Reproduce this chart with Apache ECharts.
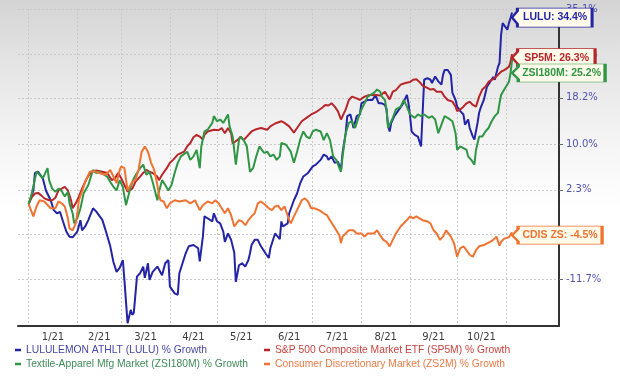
<!DOCTYPE html>
<html>
<head>
<meta charset="utf-8">
<script src="https://cdn.jsdelivr.net/npm/echarts@6/dist/echarts.min.js"></script>
<style>
  html, body { margin: 0; padding: 0; background: #fff; }
  #chart {
    width: 620px;
    height: 376px;
    background: linear-gradient(to bottom, #d4d4d4 0px, #e6e6e6 70px, #f6f6f6 150px, #ffffff 210px);
  }
</style>
</head>
<body>
<div id="chart"></div>
<script>
// growth is drawn on a log scale of (OFFSET + %), that is how the source spaces its ticks
const OFFSET = 150;

// x is a day number, 0 = 1 Jan 2021
const monthLabels = ['1/21', '2/21', '3/21', '4/21', '5/21', '6/21', '7/21', '8/21', '9/21', '10/21'];
const monthStarts = [0, 31, 59, 90, 120, 151, 181, 212, 243, 273, 304];
const monthMids = [15.5, 45, 74.5, 105, 135.5, 166, 196.5, 227.5, 258, 288.5];
const yTickValues = [35.1, 26.3, 18.2, 10.0, 2.3, -4.8, -11.7];

const seriesNames = [
  'LULULEMON ATHLT (LULU) % Growth',
  'S&P 500 Composite Market ETF (SP5M) % Growth',
  'Textile-Apparel Mfg Market (ZSI180M) % Growth',
  'Consumer Discretionary Market (ZS2M) % Growth',
];
const shortNames = ['LULU', 'SP5M', 'ZSI180M', 'CDIS ZS'];

const luluDays = [0, 3, 4, 6, 7, 9, 11, 14, 16, 18, 20, 22, 24, 26, 28, 31, 33, 34, 36, 38, 41, 43, 47, 49, 52, 54, 56, 58, 60, 61, 63, 65, 66, 67, 69, 71, 73, 74, 76, 77, 79, 82, 85, 87, 89, 90, 93, 95, 96, 100, 102, 105, 108, 109, 111, 112, 114, 117, 118, 120, 122, 124, 125, 127, 129, 131, 132, 134, 136, 138, 140, 141, 142, 144, 146, 148, 151, 153, 154, 155, 157, 160, 161, 162, 165, 166, 169, 171, 173, 175, 178, 181, 183, 186, 188, 190, 191, 193, 195, 197, 199, 200, 202, 203, 205, 207, 209, 211, 212, 214, 216, 219, 221, 223, 225, 227, 228, 229, 230, 231, 233, 236, 238, 240, 241, 242, 243, 244, 246, 248, 250, 251, 252, 254, 256, 257, 259, 261, 263, 264, 265, 267, 269, 270, 272, 273, 275, 277, 278, 280, 281, 283, 284, 286, 287, 288, 290, 292, 294, 296, 297, 299, 300, 301, 302, 303, 305, 306, 307, 308];
const luluValues = [0, 2.2, 5.1, 5.3, 5.2, 4.2, 2.2, 0.6, -1.0, -1.5, -1.3, -2.9, -4.4, -5.2, -5.3, -4.4, -2.6, -4.2, -3.6, -2.6, -0.7, -1.2, -2.6, -4.2, -6.7, -9.1, -10.6, -10.0, -8.8, -11.8, -18.1, -16.2, -16.9, -16.6, -11.3, -10.8, -9.8, -11.5, -9.3, -11.8, -10.6, -9.8, -11.1, -9.3, -8.8, -12.8, -13.8, -14.0, -10.8, -7.8, -6.7, -6.5, -7.0, -9.0, -5.2, -2.0, -2.3, -2.8, -1.5, -2.8, -3.1, -4.4, -6.0, -4.7, -5.7, -7.7, -12.1, -9.6, -9.3, -9.8, -8.8, -7.8, -6.5, -5.7, -5.7, -6.7, -7.8, -8.5, -7.0, -6.7, -4.7, -5.6, -2.8, -3.6, -3.1, -1.5, 0.6, 1.7, 3.4, 4.5, 5.1, 6.2, 6.5, 7.3, 8.2, 7.9, 7.3, 7.9, 6.8, 7.0, 5.6, 8.5, 11.9, 14.9, 15.2, 12.8, 14.9, 15.2, 17.2, 17.5, 17.8, 17.8, 18.7, 17.2, 17.2, 16.9, 16.1, 13.1, 12.2, 13.7, 14.9, 16.1, 16.9, 18.1, 18.7, 17.2, 14.9, 12.2, 11.6, 11.3, 9.6, 9.6, 21.5, 21.8, 21.5, 20.9, 22.1, 21.2, 20.6, 22.4, 23.3, 23.3, 22.4, 19.1, 17.8, 16.6, 15.8, 15.2, 13.4, 14.3, 12.8, 11.3, 10.8, 13.7, 15.5, 16.4, 17.8, 20.2, 21.1, 22.0, 21.5, 23.9, 24.6, 30.0, 32.3, 32.0, 31.0, 32.3, 33.3, 34.4];

const sp5mDays = [0, 2, 4, 6, 8, 10, 13, 15, 17, 19, 21, 23, 25, 27, 28, 30, 32, 34, 37, 40, 43, 47, 50, 53, 55, 57, 59, 61, 63, 66, 68, 71, 73, 75, 77, 79, 82, 83, 85, 88, 90, 92, 95, 99, 101, 103, 105, 107, 109, 111, 112, 114, 118, 121, 123, 125, 127, 129, 130, 133, 135, 137, 139, 142, 145, 148, 152, 154, 157, 161, 163, 166, 169, 171, 174, 177, 180, 183, 187, 189, 191, 193, 195, 197, 199, 202, 204, 206, 209, 211, 214, 217, 221, 224, 227, 230, 232, 234, 237, 240, 243, 245, 247, 249, 251, 254, 256, 258, 260, 263, 265, 267, 270, 272, 273, 275, 277, 279, 281, 283, 285, 287, 289, 291, 293, 295, 297, 299, 301, 303, 306, 307, 308];
const sp5mValues = [0, 1.1, 1.7, 1.8, 1.4, 0.9, 0.6, 0.6, 1.0, 2.2, 2.5, 2.8, 2.2, 0.6, -0.7, 0.1, 1.2, 2.5, 4.2, 5.3, 5.5, 5.3, 5.1, 3.9, 4.2, 5.1, 4.2, 3.1, 2.0, 2.5, 3.6, 4.5, 5.1, 5.6, 5.3, 5.1, 4.5, 3.9, 4.8, 5.9, 6.8, 7.3, 8.2, 8.7, 9.6, 10.2, 11.2, 11.6, 11.3, 10.8, 11.6, 12.2, 12.5, 12.4, 12.8, 11.9, 12.8, 11.9, 10.1, 10.7, 11.3, 10.7, 11.3, 12.2, 12.6, 12.8, 12.5, 13.1, 13.6, 14.0, 13.7, 13.1, 12.0, 12.8, 14.0, 14.6, 15.2, 15.6, 16.4, 16.9, 16.8, 17.2, 16.6, 15.8, 14.3, 16.1, 17.8, 18.4, 18.1, 17.8, 18.4, 18.7, 18.7, 18.6, 19.3, 17.9, 19.3, 19.6, 20.6, 20.9, 21.1, 21.5, 21.6, 21.1, 20.4, 20.0, 19.7, 19.8, 19.3, 19.3, 18.4, 17.8, 17.5, 16.6, 15.8, 16.1, 16.6, 17.2, 17.5, 16.9, 16.6, 18.4, 19.7, 20.2, 21.1, 21.5, 21.8, 22.4, 23.0, 23.3, 23.9, 24.8, 26.3];

const zsiDays = [0, 2, 5, 7, 9, 12, 13, 15, 17, 19, 21, 23, 25, 26, 28, 29, 31, 33, 35, 38, 41, 43, 45, 48, 50, 52, 54, 56, 58, 60, 62, 65, 67, 69, 71, 73, 75, 77, 79, 82, 83, 85, 87, 89, 91, 93, 95, 97, 101, 103, 105, 107, 109, 110, 112, 114, 117, 118, 120, 122, 124, 127, 128, 130, 132, 134, 135, 137, 139, 141, 143, 145, 147, 150, 152, 154, 156, 158, 160, 161, 164, 167, 169, 171, 173, 175, 177, 179, 181, 183, 186, 188, 190, 192, 194, 196, 198, 199, 200, 202, 204, 206, 208, 210, 212, 214, 216, 220, 222, 224, 225, 227, 228, 229, 230, 232, 234, 237, 239, 241, 243, 244, 246, 248, 250, 252, 255, 257, 259, 261, 263, 265, 267, 270, 272, 273, 275, 277, 279, 280, 282, 284, 285, 287, 289, 291, 293, 295, 297, 299, 300, 301, 303, 306, 307, 308];
const zsiValues = [0, 1.7, 5.3, 4.8, 4.2, 5.9, 3.9, 2.5, 2.0, 2.5, 2.1, 1.2, 2.0, 0.1, -1.5, -3.1, -2.3, -0.7, 1.7, 3.1, 5.6, 5.1, 5.3, 4.8, 4.5, 3.6, 2.8, 2.2, 3.9, 2.8, -0.2, 2.8, 4.2, 5.1, 5.9, 6.5, 4.8, 5.3, 3.6, 0.6, 2.0, 3.9, 3.1, 2.2, 3.1, 5.1, 6.8, 7.9, 8.7, 7.3, 7.9, 9.0, 5.9, 9.6, 12.2, 12.5, 13.7, 14.9, 14.0, 14.3, 13.7, 15.2, 13.1, 11.3, 6.5, 10.7, 11.3, 10.7, 9.6, 5.3, 5.9, 7.9, 9.6, 8.5, 8.7, 7.9, 8.2, 7.3, 7.9, 10.2, 9.9, 8.7, 6.8, 8.7, 10.8, 12.2, 11.3, 11.0, 12.2, 12.5, 12.2, 10.7, 11.9, 10.7, 7.9, 7.3, 5.9, 5.3, 7.9, 11.9, 13.7, 14.0, 12.8, 14.6, 16.1, 17.2, 18.4, 19.1, 19.7, 19.3, 18.4, 17.8, 16.1, 12.8, 13.1, 14.6, 16.1, 16.6, 17.8, 16.6, 15.2, 14.9, 14.6, 15.2, 14.9, 15.2, 14.6, 14.9, 14.3, 11.9, 13.4, 14.9, 14.6, 14.0, 11.9, 9.0, 9.6, 9.3, 9.0, 7.9, 7.3, 6.5, 9.0, 11.3, 11.3, 12.2, 12.8, 14.0, 14.9, 15.5, 17.2, 18.7, 19.7, 21.1, 22.7, 25.2];

const cdisDays = [0, 1, 3, 5, 7, 10, 14, 17, 19, 21, 23, 25, 26, 28, 30, 31, 32, 34, 36, 39, 42, 45, 49, 52, 54, 56, 58, 59, 61, 63, 66, 68, 70, 72, 74, 76, 78, 80, 82, 83, 84, 86, 88, 90, 93, 96, 100, 103, 106, 109, 111, 114, 117, 119, 121, 123, 125, 127, 129, 131, 134, 136, 138, 140, 142, 144, 146, 148, 151, 153, 155, 157, 159, 161, 163, 166, 167, 169, 171, 174, 176, 178, 180, 182, 185, 188, 190, 192, 194, 196, 198, 199, 200, 204, 207, 209, 212, 214, 216, 220, 222, 224, 226, 228, 230, 232, 234, 237, 239, 241, 243, 245, 247, 249, 251, 254, 256, 258, 260, 262, 264, 266, 269, 271, 273, 275, 277, 279, 281, 283, 285, 287, 290, 294, 296, 298, 300, 301, 303, 306, 308];
const cdisValues = [0, -0.7, -2.0, -0.4, 0.6, 0.4, -0.7, -0.7, 0.4, 0.1, -0.4, -2.3, -3.9, -4.2, -3.1, -1.5, 0.6, 2.0, 3.6, 5.3, 5.4, 5.1, 4.8, 5.6, 4.5, 3.4, 5.6, 6.2, 5.9, 2.2, 3.6, 3.9, 5.6, 8.7, 9.6, 8.7, 6.8, 5.6, 3.1, 1.4, 0.6, 0.4, -0.7, 0.1, 0.6, 0.4, 0.6, 0.1, 0.6, -1.0, -0.2, 0.4, 0.1, 0.6, 0.1, -0.7, -1.5, -0.7, -1.8, -3.6, -2.6, -2.8, -3.4, -2.6, -2.0, -1.5, 0.1, 0.4, -0.2, -0.7, -1.0, -0.4, -0.3, -1.0, -0.4, -2.6, -3.1, -2.0, -1.0, 0.6, 0.9, 0.4, -0.7, -0.7, -1.0, -1.5, -1.8, -2.6, -3.4, -4.2, -5.0, -6.2, -5.2, -4.2, -4.2, -4.7, -4.7, -5.2, -4.7, -4.7, -4.2, -5.0, -5.7, -6.0, -6.7, -5.7, -4.7, -3.6, -3.1, -2.6, -2.0, -2.3, -2.0, -2.3, -2.6, -2.8, -3.1, -4.2, -4.7, -5.7, -5.2, -4.2, -5.2, -6.2, -8.3, -7.0, -6.7, -7.3, -8.0, -8.3, -7.3, -6.7, -6.5, -6.0, -5.7, -5.2, -6.6, -6.0, -5.5, -5.3, -4.5];

const lineColors = ['#2424a6', '#b8262c', '#2f9646', '#f07331'];
const legendColors = ['#4747a6', '#c8443f', '#3f8b58', '#ec7a47'];

// callout boxes at the line ends: size and vertical shift
const boxSizes = [[80, 19], [83, 18], [93, 18], [90, 18]];
const boxShift = [5, 3.5, 13, 3];
const calloutPath = 'path://M0,9L6,3L6,0L90,0L90,18L6,18L6,15Z';

const legendPos = [[15, 345], [264, 345], [15, 359], [264, 359]];

const seriesData = [
  [luluDays, luluValues],
  [sp5mDays, sp5mValues],
  [zsiDays, zsiValues],
  [cdisDays, cdisValues],
];

const chart = echarts.init(document.getElementById('chart'));

const series = seriesData.map(([days, values], i) => {
  const last = values.length - 1;
  return {
    name: seriesNames[i],
    type: 'line',
    data: days.map((d, k) => [d, values[k] + OFFSET]),
    showSymbol: false,
    symbol: 'none',
    color: lineColors[i],
    lineStyle: { width: 2 },
    emphasis: { disabled: true },
    markPoint: {
      symbol: calloutPath,
      symbolSize: boxSizes[i],
      symbolOffset: [boxSizes[i][0] / 2, boxShift[i]],
      itemStyle: { color: '#fffbea', borderColor: lineColors[i], borderWidth: 1.5 },
      label: {
        show: true,
        position: 'inside',
        offset: [3, 0],
        color: lineColors[i],
        fontFamily: 'Liberation Sans',
        fontWeight: 'bold',
        fontSize: 10.5,
        formatter: shortNames[i] + ': ' + values[last].toFixed(1) + '%',
      },
      emphasis: { disabled: true },
      data: [{ coord: [days[last], values[last] + OFFSET] }],
    },
  };
});

const gridLine = { show: true, lineStyle: { color: '#c9c9c9', type: [2, 2], width: 1 } };

chart.setOption({
  animation: false,
  backgroundColor: 'transparent',
  grid: { left: 18, right: 61, top: 9, bottom: 50 },
  legend: seriesNames.map((name, i) => ({
    data: [name],
    left: legendPos[i][0],
    top: legendPos[i][1],
    padding: 0,
    icon: 'rect',
    itemWidth: 6,
    itemHeight: 2.5,
    selectedMode: false,
    textStyle: { color: legendColors[i], fontFamily: 'Liberation Sans', fontSize: 10.3 },
  })),
  xAxis: {
    type: 'value',
    min: -6.8,
    max: 337.9,
    axisLine: { show: true, onZero: false, lineStyle: { color: '#333', width: 2 } },
    axisTick: { show: false, customValues: monthStarts },
    splitLine: gridLine,
    axisLabel: {
      customValues: monthMids,
      formatter: (v) => monthLabels[monthMids.indexOf(v)],
      color: '#3c3c3c',
      fontFamily: 'DejaVu Sans',
      fontSize: 10,
      margin: 6,
    },
  },
  yAxis: {
    type: 'log',
    logBase: 10,
    position: 'right',
    min: OFFSET - 18.5,
    max: OFFSET + 35.1,
    axisLine: { show: true, onZero: false, lineStyle: { color: '#333', width: 2 } },
    axisTick: {
      show: true,
      length: 4,
      customValues: yTickValues.map((v) => v + OFFSET),
      lineStyle: { color: '#666' },
    },
    splitLine: gridLine,
    axisLabel: {
      customValues: yTickValues.map((v) => v + OFFSET),
      formatter: (v) => (v - OFFSET).toFixed(1) + '%',
      color: '#5353b0',
      fontFamily: 'DejaVu Sans',
      fontSize: 10,
      margin: 7,
    },
  },
  series,
});
</script>
</body>
</html>
